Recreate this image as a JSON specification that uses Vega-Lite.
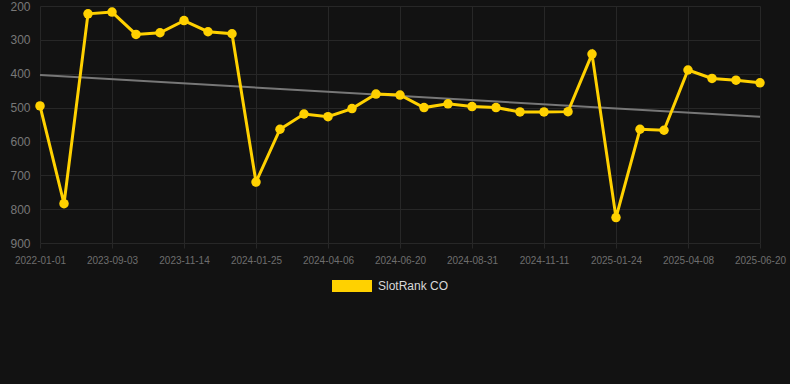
{
  "$schema": "https://vega.github.io/schema/vega-lite/v6.json",
  "autosize": {"type": "none"},
  "width": 750,
  "height": 237,
  "padding": {"left": 40, "top": 6, "right": 0, "bottom": 141},
  "background": "#121212",
  "config": {
    "view": {"stroke": null},
    "font": "Liberation Sans",
    "axis": {"gridColor": "#272727", "gridWidth": 1, "domain": false, "labelColor": "#787878"}
  },
  "datasets": {
    "rank": [
      {"date": "2022-01-01", "rank": 495, "series": "SlotRank CO"},
      {"date": "2023-07-20", "rank": 784, "series": "SlotRank CO"},
      {"date": "2023-08-10", "rank": 223, "series": "SlotRank CO"},
      {"date": "2023-09-03", "rank": 218, "series": "SlotRank CO"},
      {"date": "2023-09-27", "rank": 284, "series": "SlotRank CO"},
      {"date": "2023-10-21", "rank": 279, "series": "SlotRank CO"},
      {"date": "2023-11-14", "rank": 243, "series": "SlotRank CO"},
      {"date": "2023-12-08", "rank": 276, "series": "SlotRank CO"},
      {"date": "2024-01-01", "rank": 282, "series": "SlotRank CO"},
      {"date": "2024-01-25", "rank": 720, "series": "SlotRank CO"},
      {"date": "2024-02-18", "rank": 564, "series": "SlotRank CO"},
      {"date": "2024-03-13", "rank": 519, "series": "SlotRank CO"},
      {"date": "2024-04-06", "rank": 527, "series": "SlotRank CO"},
      {"date": "2024-04-30", "rank": 503, "series": "SlotRank CO"},
      {"date": "2024-05-25", "rank": 460, "series": "SlotRank CO"},
      {"date": "2024-06-20", "rank": 463, "series": "SlotRank CO"},
      {"date": "2024-07-14", "rank": 500, "series": "SlotRank CO"},
      {"date": "2024-08-07", "rank": 489, "series": "SlotRank CO"},
      {"date": "2024-08-31", "rank": 497, "series": "SlotRank CO"},
      {"date": "2024-09-24", "rank": 500, "series": "SlotRank CO"},
      {"date": "2024-10-18", "rank": 513, "series": "SlotRank CO"},
      {"date": "2024-11-11", "rank": 513, "series": "SlotRank CO"},
      {"date": "2024-12-05", "rank": 512, "series": "SlotRank CO"},
      {"date": "2024-12-29", "rank": 342, "series": "SlotRank CO"},
      {"date": "2025-01-24", "rank": 825, "series": "SlotRank CO"},
      {"date": "2025-02-17", "rank": 564, "series": "SlotRank CO"},
      {"date": "2025-03-14", "rank": 567, "series": "SlotRank CO"},
      {"date": "2025-04-08", "rank": 389, "series": "SlotRank CO"},
      {"date": "2025-05-02", "rank": 414, "series": "SlotRank CO"},
      {"date": "2025-05-27", "rank": 419, "series": "SlotRank CO"},
      {"date": "2025-06-20", "rank": 427, "series": "SlotRank CO"}
    ],
    "trend": [
      {"date": "2022-01-01", "rank": 404},
      {"date": "2025-06-20", "rank": 527}
    ]
  },
  "encoding": {
    "x": {
      "field": "date", "type": "ordinal", "title": null,
      "scale": {"type": "point", "range": [0, 720], "padding": 0},
      "axis": {
        "values": ["2022-01-01", "2023-09-03", "2023-11-14", "2024-01-25", "2024-04-06", "2024-06-20", "2024-08-31", "2024-11-11", "2025-01-24", "2025-04-08", "2025-06-20"],
        "labelAngle": 0, "labelFontSize": 10, "labelPadding": 7, "labelColor": "#6e6e6e", "tickColor": "#272727", "tickSize": 5, "grid": true
      }
    },
    "y": {
      "field": "rank", "type": "quantitative", "title": null,
      "scale": {"domain": [200, 900], "reverse": true, "nice": false, "zero": false},
      "axis": {"values": [200, 300, 400, 500, 600, 700, 800, 900], "labelFontSize": 12, "labelPadding": 10, "ticks": false, "grid": true, "labelOverlap": false}
    }
  },
  "layer": [
    {
      "data": {"name": "trend"},
      "mark": {"type": "line", "color": "#777777", "strokeWidth": 2},
      "encoding": {}
    },
    {
      "data": {"name": "rank"},
      "mark": {"type": "line", "strokeWidth": 3},
      "encoding": {
        "color": {
          "field": "series", "type": "nominal",
          "scale": {"range": ["#FFD100"]},
          "legend": {
            "title": null, "orient": "none", "legendX": 292, "legendY": 260,
            "symbolType": "M-1,-0.3L1,-0.3L1,0.3L-1,0.3Z", "symbolSize": 1600,
            "symbolStrokeWidth": 0, "labelColor": "#d8d8d8", "labelFontSize": 12, "labelOffset": 6, "symbolOpacity": 1
          }
        }
      }
    },
    {
      "data": {"name": "rank"},
      "mark": {"type": "circle", "size": 90, "opacity": 1},
      "encoding": {
        "color": {"field": "series", "type": "nominal"}
      }
    }
  ]
}
